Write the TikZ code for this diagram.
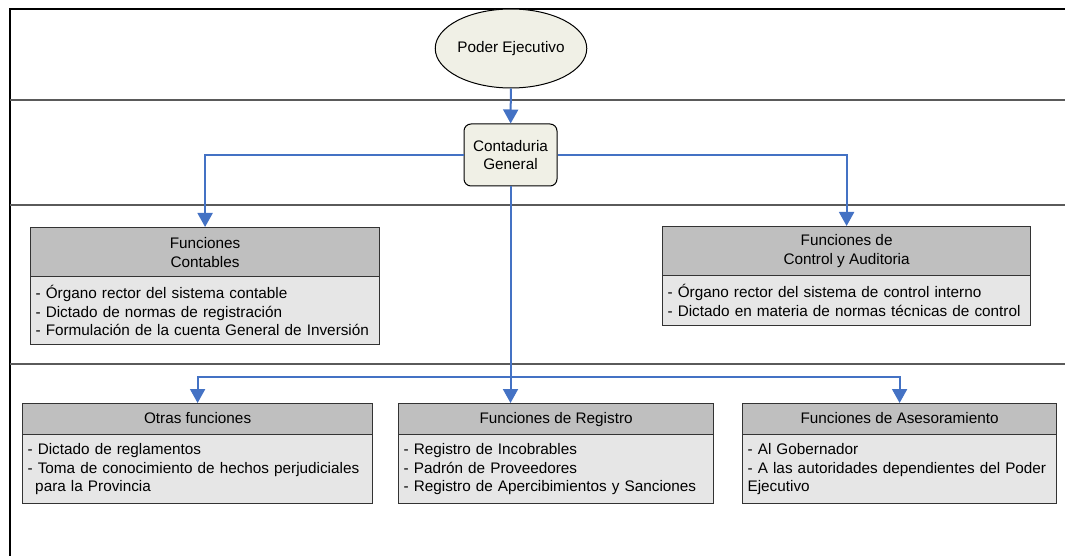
\documentclass[tikz,border=0pt]{standalone}
\usepackage{fontspec}
\setmainfont{Liberation Sans}
\usetikzlibrary{arrows.meta,shapes.geometric}
\definecolor{arrblue}{RGB}{68,114,196}
\definecolor{hdrgray}{RGB}{191,191,191}
\definecolor{bodgray}{RGB}{230,230,230}
\definecolor{topfill}{RGB}{240,240,230}
\definecolor{lanegray}{RGB}{90,90,90}
\newcommand{\bodyline}[1]{\mbox{#1}}
\hbadness=10000 \hfuzz=100pt
\begin{document}
\begin{tikzpicture}[x=1pt,y=-1pt,
  font=\fontsize{15.3}{18.5}\selectfont,
  lane/.style={draw=lanegray,line width=1.5pt},
  frame/.style={draw=black,line width=1.5pt},
  arr/.style={draw=arrblue,line width=2pt,-{Triangle[width=15pt,length=14pt]}},
  hdr/.style={draw=black!80,line width=1.2pt,fill=hdrgray,anchor=north west,align=center,inner sep=0pt},
  hdrone/.style={hdr,text height=11.5pt,text depth=3pt},
  bod/.style={draw=black!80,line width=1.2pt,fill=bodgray,anchor=north west,align=left,inner xsep=5pt,inner ysep=0pt},
  topnode/.style={draw=black,line width=1pt,fill=topfill,align=center,inner sep=0pt}]
\useasboundingbox (0,0) rectangle (1065,556);
% lanes
\draw[frame] (10,556) -- (10,9) -- (1065,9);
\draw[lane] (10,100) -- (1065,100);
\draw[lane] (10,205) -- (1065,205);
\draw[lane] (10,364) -- (1065,364);
% top nodes
\node[topnode,ellipse,minimum width=118pt,minimum height=79pt] (pe) at (511,48.5) {Poder Ejecutivo};
\node[topnode,rounded corners=7pt,minimum width=93pt,minimum height=62pt] (cg) at (510.5,155) {Contaduria\\General};
% middle boxes
\node[hdr,minimum width=349pt,minimum height=50pt] (fc) at (30,227) {Funciones\\Contables};
\node[bod,minimum width=349pt,minimum height=68pt,text width=339pt] (fcb) at (30,276) {\bodyline{- Órgano rector del sistema contable}\\\bodyline{- Dictado de normas de registración}\\\bodyline{- Formulación de la cuenta General de Inversión}};
\node[hdr,minimum width=368pt,minimum height=49pt] (fca) at (662,226) {Funciones de\\Control y Auditoria};
\node[bod,minimum width=368pt,minimum height=50pt,text width=358pt] (fcab) at (662,275) {\bodyline{- Órgano rector del sistema de control interno}\\\bodyline{- Dictado en materia de normas técnicas de control}};
% bottom boxes
\node[hdrone,minimum width=350pt,minimum height=31pt] (ot) at (22,403) {Otras funciones};
\node[bod,minimum width=350pt,minimum height=69pt,text width=340pt] (otb) at (22,434) {\bodyline{- Dictado de reglamentos}\\\bodyline{- Toma de conocimiento de hechos perjudiciales}\\\bodyline{\ \,para la Provincia}};
\node[hdrone,minimum width=315pt,minimum height=31pt] (fr) at (398,403) {Funciones de Registro};
\node[bod,minimum width=315pt,minimum height=69pt,text width=305pt] (frb) at (398,434) {\bodyline{- Registro de Incobrables}\\\bodyline{- Padrón de Proveedores}\\\bodyline{- Registro de Apercibimientos y Sanciones}};
\node[hdrone,minimum width=314pt,minimum height=31pt] (as) at (742,403) {Funciones de Asesoramiento};
\node[bod,minimum width=314pt,minimum height=69pt,text width=304pt] (asb) at (742,434) {\bodyline{- Al Gobernador}\\\bodyline{- A las autoridades dependientes del Poder}\\\bodyline{Ejecutivo}};
% connectors
\draw[arr] (pe) -- (cg);
\draw[arr] (cg.west) -| (fc.north);
\draw[arr] (cg.east) -| (fca.north);
\draw[arr] (cg.south) -- (cg.south |- fr.north);
\coordinate (j) at (510.5,377);
\draw[arr] (j) -| (ot.north);
\draw[arr] (j) -| (as.north);
\end{tikzpicture}
\end{document}
